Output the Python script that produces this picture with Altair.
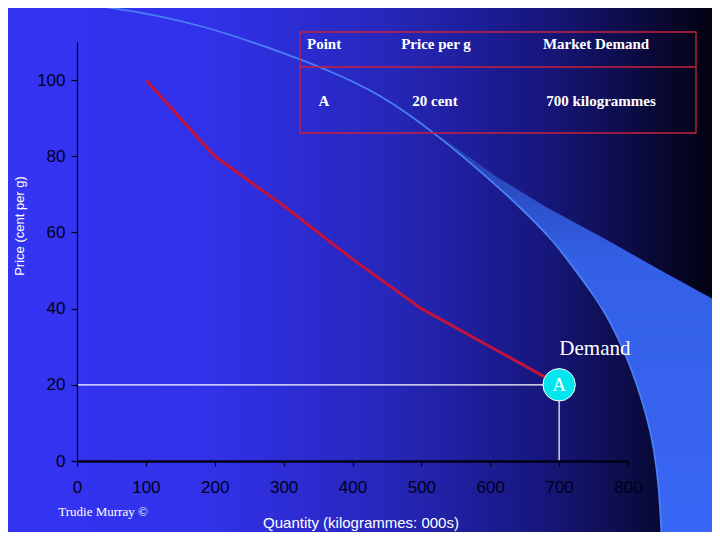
import altair as alt
import pandas as pd

# ---- chart data ----
qty = [100, 200, 300, 400, 500, 600, 700]
price = [100, 80, 67, 53, 40, 30, 20]
x_ticks = [0, 100, 200, 300, 400, 500, 600, 700, 800]
y_ticks = [0, 20, 40, 60, 80, 100]
point_label = "A"
point_q = 700
point_p = 20
curve_label = "Demand"
label_q = 752
label_p = 29.5

table_headers = ["Point", "Price per g", "Market Demand"]
table_row = ["A", "20 cent", "700 kilogrammes"]

x_title = "Quantity (kilogrammes: 000s)"
y_title = "Price (cent per g)"
credit = "Trudie Murray \u00a9"

# ---- slide decoration (slide pixel space 720x540) ----
arc_x = [0, 33, 100, 200, 300, 320, 380, 440, 487, 520, 553, 575, 600, 618, 632, 643, 652, 657, 660, 662]
arc_y = [-2, 0, 5, 23, 59, 67, 93, 137, 177, 207, 240, 270, 303, 337, 370, 403, 437, 470, 503, 545]
wedge_y = [137, 177, 207, 240, 270, 303, 337, 370, 403, 437, 470, 503, 545]
wedge_in = [440, 487, 520, 553, 575, 600, 618, 632, 643, 652, 657, 660, 662]
wedge_out = [441, 497, 546, 607, 660, 720, 720, 720, 720, 720, 720, 720, 720]

# layout of table cells (slide px)
tbl_x0, tbl_x1, tbl_y0, tbl_y1, tbl_mid = 300, 696, 32, 133, 67
hdr_pos = [(307, 44, "left"), (436, 44, "center"), (596, 44, "center")]
row_pos = [(324, 101, "center"), (435, 101, "center"), (601, 101, "center")]

W, H = 551, 419
PAD = {"left": 69, "top": 34, "right": 84, "bottom": 71}

XD = alt.Scale(domain=[0, 720], range=[-77, 643], nice=False, zero=False)
YD = alt.Scale(domain=[0, 540], range=[-42, 498], nice=False, zero=False)
XS = alt.Scale(domain=[0, 800], nice=False, zero=False)
YS = alt.Scale(domain=[0, 110], nice=False, zero=False)

def dx(f, **kw):
    return alt.X(f, type="quantitative", scale=XD, axis=None, **kw)

def dy(f, **kw):
    return alt.Y(f, type="quantitative", scale=YD, axis=None, **kw)

bg_df = pd.DataFrame({"x0": [0], "x1": [720], "y0": [0], "y1": [540]})
bg = alt.Chart(bg_df).mark_rect(
    color=alt.LinearGradient(
        gradient="linear", x1=0, x2=1, y1=0, y2=0,
        stops=[
            alt.GradientStop(offset=0, color="#3434F4"),
            alt.GradientStop(offset=0.3, color="#3131E8"),
            alt.GradientStop(offset=0.55, color="#2626B8"),
            alt.GradientStop(offset=0.75, color="#17177E"),
            alt.GradientStop(offset=0.88, color="#0C0C45"),
            alt.GradientStop(offset=1, color="#00000A"),
        ],
    )
).encode(x=dx("x0"), x2="x1", y=dy("y0"), y2="y1")

wedge_df = pd.DataFrame({"y": wedge_y, "xi": wedge_in, "xo": wedge_out})
wedge = alt.Chart(wedge_df).mark_area(
    orient="horizontal",
    color=alt.LinearGradient(
        gradient="linear", x1=0, x2=0, y1=0, y2=1,
        stops=[
            alt.GradientStop(offset=0, color="#263FA8"),
            alt.GradientStop(offset=0.3, color="#3360E6"),
            alt.GradientStop(offset=1, color="#3A66F6"),
        ],
    ),
).encode(y=dy("y"), x=dx("xi"), x2="xo")

arc_df = pd.DataFrame({"x": arc_x, "y": arc_y})
arc = alt.Chart(arc_df).mark_line(
    color="#4A80F4", strokeWidth=1.8, interpolate="basis"
).encode(x=dx("x"), y=dy("y"), order="y:Q")

tbl_df = pd.DataFrame({"x0": [tbl_x0], "x1": [tbl_x1], "y0": [tbl_y0], "y1": [tbl_y1], "ym": [tbl_mid]})
tbl_box = alt.Chart(tbl_df).mark_rect(
    fillOpacity=0, stroke="#C8203C", strokeWidth=1.3
).encode(x=dx("x0"), x2="x1", y=dy("y0"), y2="y1")
tbl_line = alt.Chart(tbl_df).mark_rule(color="#C8203C", strokeWidth=1.3).encode(
    x=dx("x0"), x2="x1", y=dy("ym")
)

tbl_texts = []
for txt, (px, py, al) in zip(table_headers + table_row, hdr_pos + row_pos):
    tdf = pd.DataFrame({"x": [px], "y": [py], "t": [txt]})
    tbl_texts.append(
        alt.Chart(tdf).mark_text(
            font="Liberation Serif", fontSize=15, fontWeight="bold",
            color="white", align=al, baseline="middle"
        ).encode(x=dx("x"), y=dy("y"), text="t:N")
    )

ytitle = alt.Chart(pd.DataFrame({"x": [20], "y": [226], "t": [y_title]})).mark_text(
    font="Liberation Sans", fontSize=13, color="white", angle=270, baseline="middle"
).encode(x=dx("x"), y=dy("y"), text="t:N")
xtitle = alt.Chart(pd.DataFrame({"x": [361], "y": [523], "t": [x_title]})).mark_text(
    font="Liberation Sans", fontSize=15, color="white", baseline="middle"
).encode(x=dx("x"), y=dy("y"), text="t:N")
credit_t = alt.Chart(pd.DataFrame({"x": [103], "y": [512], "t": [credit]})).mark_text(
    font="Liberation Serif", fontSize=13, color="white", baseline="middle"
).encode(x=dx("x"), y=dy("y"), text="t:N")

# ---- main plot ----
ref_df = pd.DataFrame({"q0": [0], "q": [point_q], "p0": [0], "p": [point_p]})
hline = alt.Chart(ref_df).mark_rule(color="white", strokeWidth=1.2).encode(
    x=alt.X("q0:Q", scale=XS, axis=None), x2="q", y=alt.Y("p:Q", scale=YS, axis=None)
)
vline = alt.Chart(ref_df).mark_rule(color="white", strokeWidth=1.2).encode(
    x=alt.X("q:Q", scale=XS, axis=None), y=alt.Y("p0:Q", scale=YS, axis=None), y2="p"
)

AX = "#000018"
dem_df = pd.DataFrame({"q": qty, "p": price})
demand = alt.Chart(dem_df).mark_line(color="#C0143C", strokeWidth=3).encode(
    x=alt.X("q:Q", scale=XS, axis=alt.Axis(
        values=x_ticks, title=None, grid=False, domainColor=AX, domainWidth=2.5,
        tickColor=AX, tickSize=5, tickWidth=1.2, labelColor=AX,
        labelFont="Liberation Sans", labelFontSize=17, labelPadding=13, labelFlush=False,
        labelOverlap=False, labelBound=False, labelOpacity=1, zindex=2)),
    y=alt.Y("p:Q", scale=YS, axis=alt.Axis(
        values=y_ticks, title=None, grid=False, domainColor=AX, domainWidth=1.2,
        tickColor=AX, tickSize=6, tickWidth=1.2, labelColor=AX,
        labelFont="Liberation Sans", labelFontSize=17, labelPadding=6, labelFlush=False,
        labelOverlap=False, zindex=2)),
)

pt_df = pd.DataFrame({"q": [point_q], "p": [point_p], "t": [point_label]})
circ = alt.Chart(pt_df).mark_point(
    shape="circle", filled=True, size=1050, color="#00E6EE", stroke="white",
    strokeWidth=1, opacity=1
).encode(x=alt.X("q:Q", scale=XS, axis=None), y=alt.Y("p:Q", scale=YS, axis=None))
circ_t = alt.Chart(pt_df).mark_text(
    font="Liberation Serif", fontSize=19, color="white", baseline="middle"
).encode(x=alt.X("q:Q", scale=XS, axis=None), y=alt.Y("p:Q", scale=YS, axis=None), text="t:N")

lab_df = pd.DataFrame({"q": [label_q], "p": [label_p], "t": [curve_label]})
lab = alt.Chart(lab_df).mark_text(
    font="Liberation Serif", fontSize=21, color="white", baseline="middle"
).encode(x=alt.X("q:Q", scale=XS, axis=None), y=alt.Y("p:Q", scale=YS, axis=None), text="t:N")

chart = alt.layer(
    bg, wedge, arc, tbl_box, tbl_line, *tbl_texts, ytitle, xtitle, credit_t,
    hline, vline, demand, circ, circ_t, lab
).resolve_scale(x="independent", y="independent").properties(
    width=W, height=H, padding=PAD, autosize=alt.AutoSizeParams(type="none")
).configure_view(stroke=None).configure(background="#3434F4")

chart.save("out.html", embed_options={"renderer": "svg", "actions": False})
